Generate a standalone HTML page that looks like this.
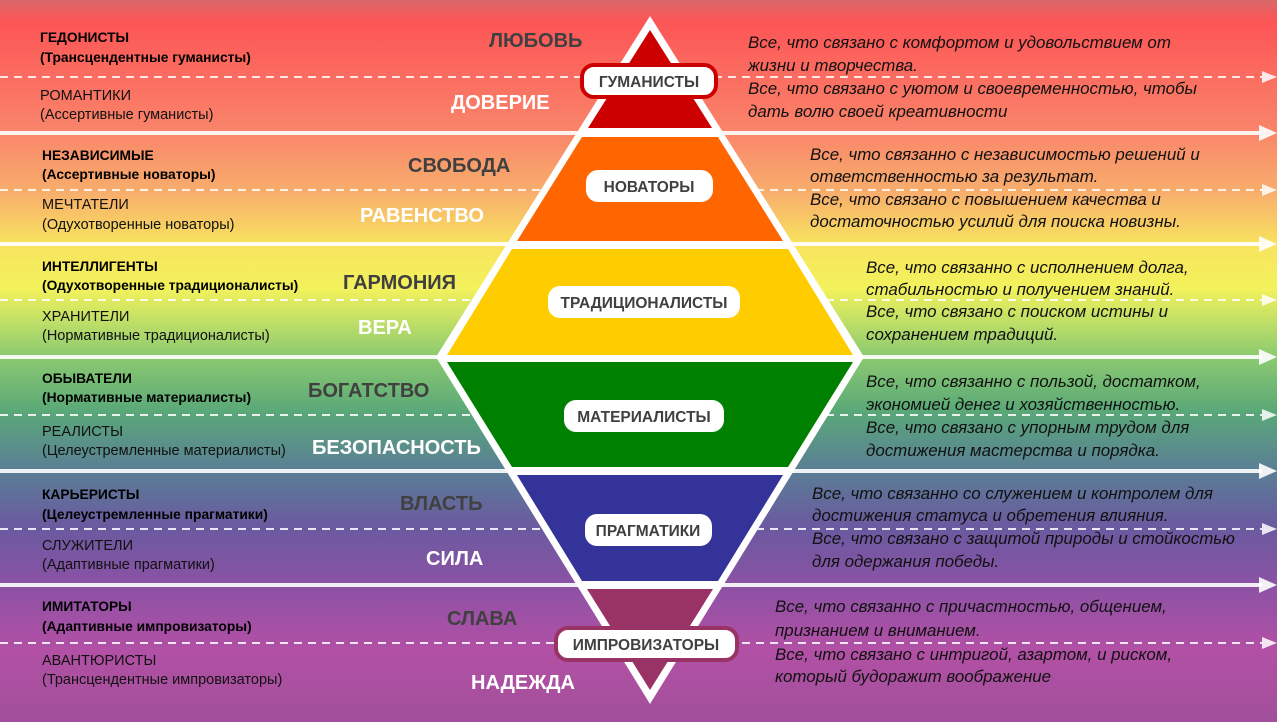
<!DOCTYPE html>
<html><head><meta charset="utf-8"><style>
html,body{margin:0;padding:0;width:1277px;height:722px;overflow:hidden}
svg{display:block}
.lb{font:bold 13.8px "Liberation Sans",sans-serif;fill:#000}
.lr{font:14.5px "Liberation Sans",sans-serif;fill:#111}
.wd{font:bold 20px "Liberation Sans",sans-serif;fill:#404040}
.ww{font:bold 20px "Liberation Sans",sans-serif;fill:#fff}
.rt{font:italic 16.9px "Liberation Sans",sans-serif;fill:#111}
.pl{font:bold 15.5px "Liberation Sans",sans-serif;fill:#404040;text-anchor:middle}
</style></head><body>
<svg width="1277" height="722" viewBox="0 0 1277 722" xmlns="http://www.w3.org/2000/svg">
<defs>
<linearGradient id="bg" x1="0" y1="0" x2="0" y2="1">
<stop offset="0" stop-color="#d8686a"/>
<stop offset="0.03" stop-color="#fd5556"/>
<stop offset="0.18" stop-color="#f9846a"/>
<stop offset="0.27" stop-color="#f8b06c"/>
<stop offset="0.34" stop-color="#f8e45e"/>
<stop offset="0.40" stop-color="#f2f25c"/>
<stop offset="0.49" stop-color="#8fcc70"/>
<stop offset="0.57" stop-color="#5aa878"/>
<stop offset="0.65" stop-color="#5a7f95"/>
<stop offset="0.73" stop-color="#6a5aa0"/>
<stop offset="0.81" stop-color="#8b52a5"/>
<stop offset="0.90" stop-color="#b250a5"/>
<stop offset="1" stop-color="#a24f9a"/>
</linearGradient>
</defs>
<rect width="1277" height="722" fill="url(#bg)"/>
<g stroke="#fff" stroke-opacity="0.85" stroke-width="2" stroke-dasharray="8,6">
<line x1="0" y1="77" x2="1262" y2="77"/><line x1="0" y1="190" x2="1262" y2="190"/>
<line x1="0" y1="300" x2="1262" y2="300"/><line x1="0" y1="415" x2="1262" y2="415"/>
<line x1="0" y1="529" x2="1262" y2="529"/><line x1="0" y1="643" x2="1262" y2="643"/>
</g>
<g fill="#fff" fill-opacity="0.85">
<polygon points="1262,71 1277,77 1262,83"/><polygon points="1262,184 1277,190 1262,196"/>
<polygon points="1262,294 1277,300 1262,306"/><polygon points="1262,409 1277,415 1262,421"/>
<polygon points="1262,523 1277,529 1262,535"/><polygon points="1262,637 1277,643 1262,649"/>
</g>
<g stroke="#fff" stroke-opacity="0.9" stroke-width="4">
<line x1="0" y1="133" x2="1262" y2="133"/><line x1="0" y1="244" x2="1262" y2="244"/>
<line x1="0" y1="357" x2="1262" y2="357"/><line x1="0" y1="471" x2="1262" y2="471"/>
<line x1="0" y1="585" x2="1262" y2="585"/>
</g>
<g fill="#fff" fill-opacity="0.9">
<polygon points="1259,125 1277,133 1259,141"/><polygon points="1259,236 1277,244 1259,252"/>
<polygon points="1259,349 1277,357 1259,365"/><polygon points="1259,463 1277,471 1259,479"/>
<polygon points="1259,577 1277,585 1259,593"/>
</g>
<polygon points="650,16 864,357 650,704 436,357" fill="#fff"/>
<polygon points="650,30 712,128 588,128" fill="#cc0000"/>
<polygon points="718,137 783,241 517,241 582,137" fill="#ff6600"/>
<polygon points="788,249 853,355 447,355 512,249" fill="#ffcc00"/>
<polygon points="853,362 788,467 512,467 447,362" fill="#008000"/>
<polygon points="783,475 718,581 582,581 517,475" fill="#333399"/>
<polygon points="713,589 650,690 587,589" fill="#993366"/>
<rect x="582" y="65" width="134" height="32" rx="12" fill="#fff" stroke="#cc0000" stroke-width="4"/>
<text class="pl" x="649" y="87">ГУМАНИСТЫ</text>
<rect x="586" y="170" width="127" height="32" rx="12" fill="#fff"/>
<text class="pl" x="649" y="192">НОВАТОРЫ</text>
<rect x="548" y="286" width="192" height="32" rx="12" fill="#fff"/>
<text class="pl" x="644" y="308">ТРАДИЦИОНАЛИСТЫ</text>
<rect x="564" y="400" width="160" height="32" rx="12" fill="#fff"/>
<text class="pl" x="644" y="422">МАТЕРИАЛИСТЫ</text>
<rect x="585" y="514" width="127" height="32" rx="12" fill="#fff"/>
<text class="pl" x="648" y="536">ПРАГМАТИКИ</text>
<rect x="556" y="628" width="181" height="32" rx="12" fill="#fff" stroke="#993366" stroke-width="4"/>
<text class="pl" x="646" y="650">ИМПРОВИЗАТОРЫ</text>

<text class="wd" x="489" y="47">ЛЮБОВЬ</text>
<text class="ww" x="451" y="109">ДОВЕРИЕ</text>
<text class="wd" x="408" y="172">СВОБОДА</text>
<text class="ww" x="360" y="222">РАВЕНСТВО</text>
<text class="wd" x="343" y="289">ГАРМОНИЯ</text>
<text class="ww" x="358" y="334">ВЕРА</text>
<text class="wd" x="308" y="397">БОГАТСТВО</text>
<text class="ww" x="312" y="454">БЕЗОПАСНОСТЬ</text>
<text class="wd" x="400" y="510">ВЛАСТЬ</text>
<text class="ww" x="426" y="565">СИЛА</text>
<text class="wd" x="447" y="625">СЛАВА</text>
<text class="ww" x="471" y="689">НАДЕЖДА</text>

<text class="lb" x="40" y="42">ГЕДОНИСТЫ</text>
<text class="lb" x="40" y="62">(Трансцендентные гуманисты)</text>
<text class="lr" x="40" y="100">РОМАНТИКИ</text>
<text class="lr" x="40" y="119">(Ассертивные гуманисты)</text>
<text class="lb" x="42" y="160">НЕЗАВИСИМЫЕ</text>
<text class="lb" x="42" y="179">(Ассертивные новаторы)</text>
<text class="lr" x="42" y="209">МЕЧТАТЕЛИ</text>
<text class="lr" x="42" y="229">(Одухотворенные новаторы)</text>
<text class="lb" x="42" y="271">ИНТЕЛЛИГЕНТЫ</text>
<text class="lb" x="42" y="290">(Одухотворенные традиционалисты)</text>
<text class="lr" x="42" y="321">ХРАНИТЕЛИ</text>
<text class="lr" x="42" y="340">(Нормативные традиционалисты)</text>
<text class="lb" x="42" y="383">ОБЫВАТЕЛИ</text>
<text class="lb" x="42" y="402">(Нормативные материалисты)</text>
<text class="lr" x="42" y="436">РЕАЛИСТЫ</text>
<text class="lr" x="42" y="455">(Целеустремленные материалисты)</text>
<text class="lb" x="42" y="499">КАРЬЕРИСТЫ</text>
<text class="lb" x="42" y="519">(Целеустремленные прагматики)</text>
<text class="lr" x="42" y="550">СЛУЖИТЕЛИ</text>
<text class="lr" x="42" y="569">(Адаптивные прагматики)</text>
<text class="lb" x="42" y="611">ИМИТАТОРЫ</text>
<text class="lb" x="42" y="631">(Адаптивные импровизаторы)</text>
<text class="lr" x="42" y="665">АВАНТЮРИСТЫ</text>
<text class="lr" x="42" y="684">(Трансцендентные импровизаторы)</text>

<text class="rt" x="748" y="48">Все, что связано с комфортом и удовольствием от</text>
<text class="rt" x="748" y="71">жизни и творчества.</text>
<text class="rt" x="748" y="94">Все, что связано с уютом и своевременностью, чтобы</text>
<text class="rt" x="748" y="117">дать волю своей креативности</text>
<text class="rt" x="810" y="160">Все, что связанно с независимостью решений и</text>
<text class="rt" x="810" y="182">ответственностью за результат.</text>
<text class="rt" x="810" y="205">Все, что связано с повышением качества и</text>
<text class="rt" x="810" y="227">достаточностью усилий для поиска новизны.</text>
<text class="rt" x="866" y="273">Все, что связанно с исполнением долга,</text>
<text class="rt" x="866" y="295">стабильностью и  получением знаний.</text>
<text class="rt" x="866" y="317">Все, что связано с поиском истины и</text>
<text class="rt" x="866" y="340">сохранением традиций.</text>
<text class="rt" x="866" y="387">Все, что связанно с пользой, достатком,</text>
<text class="rt" x="866" y="410">экономией денег и хозяйственностью.</text>
<text class="rt" x="866" y="433">Все, что связано с упорным трудом для</text>
<text class="rt" x="866" y="456">достижения мастерства и порядка.</text>
<text class="rt" x="812" y="499">Все, что связанно со служением и контролем для</text>
<text class="rt" x="812" y="521">достижения статуса и  обретения влияния.</text>
<text class="rt" x="812" y="544">Все, что связано с защитой природы и стойкостью</text>
<text class="rt" x="812" y="567">для одержания победы.</text>
<text class="rt" x="775" y="612">Все, что связанно с причастностью, общением,</text>
<text class="rt" x="775" y="636">признанием и вниманием.</text>
<text class="rt" x="775" y="660">Все, что связано с интригой, азартом, и риском,</text>
<text class="rt" x="775" y="682">который будоражит воображение</text>
</svg>
</body></html>
